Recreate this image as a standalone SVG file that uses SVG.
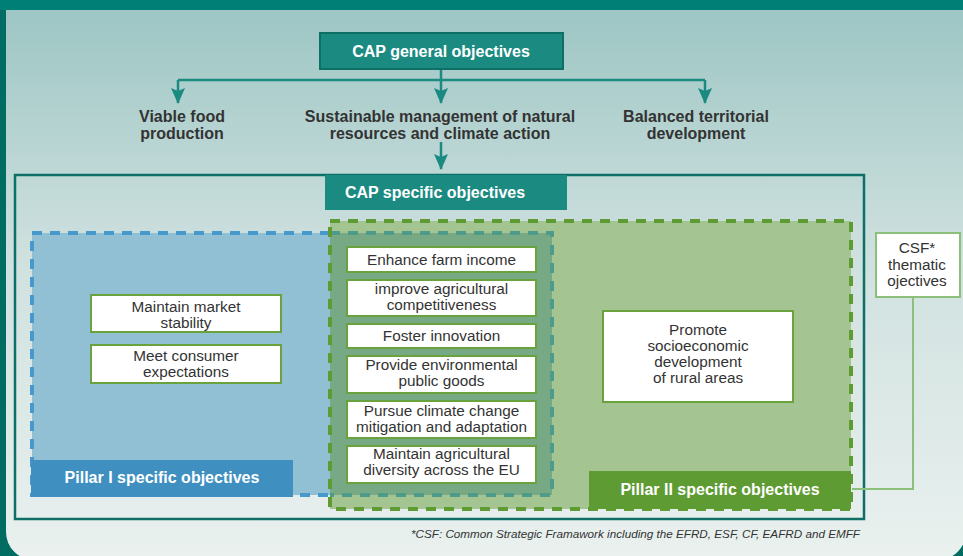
<svg xmlns="http://www.w3.org/2000/svg" width="963" height="556" viewBox="0 0 963 556">
<defs>
<linearGradient id="bg" x1="0" y1="0" x2="0" y2="1">
<stop offset="0" stop-color="#9dc6c4"/>
<stop offset="0.45" stop-color="#cfe1df"/>
<stop offset="1" stop-color="#eaf1ef"/>
</linearGradient>
<marker id="arr" markerUnits="userSpaceOnUse" markerWidth="16" markerHeight="16" refX="15" refY="7" orient="auto" viewBox="0 0 16 14">
<path d="M0,0 L16,7 L0,14 L3,7 Z" fill="#1b8a81"/>
</marker>
<style>
.hdr{fill:#1b8a81;stroke:#0e6f67;stroke-width:2}
.hdrt{font-family:"Liberation Sans",Arial,sans-serif;font-weight:bold;font-size:16px;fill:#ffffff;text-anchor:middle}
.lbl{font-family:"Liberation Sans",Arial,sans-serif;font-weight:bold;font-size:16px;fill:#333333;text-anchor:middle}
.box{fill:#ffffff;stroke:#6aa33d;stroke-width:2}
.bt{font-family:"Liberation Sans",Arial,sans-serif;font-size:15.3px;fill:#333333;text-anchor:middle}
.conn{fill:none;stroke:#1b8a81;stroke-width:2.5}
.pillt{font-family:"Liberation Sans",Arial,sans-serif;font-weight:bold;font-size:16px;fill:#ffffff;text-anchor:middle}
</style>
</defs>
<!-- frame -->
<rect x="0" y="0" width="963" height="556" fill="#006c62"/>
<rect x="0" y="0" width="963" height="10" fill="#007f77"/>
<path d="M6,10 H966 V532 A28,28 0 0 1 938,560 H34 A28,28 0 0 1 6,532 Z" fill="url(#bg)"/>

<!-- CAP specific objectives outer box -->
<g id="cap-specific">
<rect x="15" y="175" width="849" height="344" fill="none" stroke="#0e6f67" stroke-width="2.5"/>
<rect x="325" y="175" width="242" height="35" fill="#1b8a81"/>
<text class="hdrt" x="435" y="198" font-size="16.5">CAP specific objectives</text>
</g>

<!-- Pillar regions -->
<g id="pillar-regions">
<rect x="330" y="221" width="521" height="288" fill="#a4c592"/>
<rect x="32" y="233" width="298" height="262" fill="#91c0d5"/>
<rect x="330" y="233" width="222" height="262" fill="#77a985"/>
<path d="M330,233 H32 V495 H330" fill="none" stroke="#4699ca" stroke-width="4" stroke-dasharray="10 8"/>
<path d="M330,233 H552 V495 H330" fill="none" stroke="#4f9b8a" stroke-width="4" stroke-dasharray="10 8"/>
<rect x="330" y="221" width="521" height="288" fill="none" stroke="#5e9b33" stroke-width="4" stroke-dasharray="10 8"/>
</g>

<!-- connectors -->
<g id="connectors">
<path class="conn" d="M441,69 V80"/>
<path class="conn" d="M178,80 H705"/>
<path class="conn" d="M178,80 V103" marker-end="url(#arr)"/>
<path class="conn" d="M441,80 V103" marker-end="url(#arr)"/>
<path class="conn" d="M705,80 V103" marker-end="url(#arr)"/>
<path class="conn" d="M441,142 V169" marker-end="url(#arr)"/>
<path d="M852,489 H913 V297" fill="none" stroke="#8cc07a" stroke-width="2"/>
</g>

<g id="cap-general">
<rect class="hdr" x="320" y="33" width="243" height="36"/>
<text class="hdrt" x="441" y="57">CAP general objectives</text>
</g>

<g id="viable-food">
<text class="lbl" x="182" y="122">Viable food</text>
<text class="lbl" x="182" y="139">production</text>
</g>
<g id="sustainable-management">
<text class="lbl" x="440" y="122">Sustainable management of natural</text>
<text class="lbl" x="440" y="139">resources and climate action</text>
</g>
<g id="balanced-territorial">
<text class="lbl" x="696" y="122">Balanced territorial</text>
<text class="lbl" x="696" y="139">development</text>
</g>

<g id="maintain-market">
<rect class="box" x="91" y="295" width="190" height="37"/>
<text class="bt" x="186" y="312">Maintain market</text>
<text class="bt" x="186" y="328">stability</text>
</g>
<g id="meet-consumer">
<rect class="box" x="91" y="345" width="190" height="38"/>
<text class="bt" x="186" y="361">Meet consumer</text>
<text class="bt" x="186" y="377">expectations</text>
</g>

<g id="enhance-farm-income">
<rect class="box" x="347" y="247" width="189" height="25"/>
<text class="bt" x="441.5" y="265">Enhance farm income</text>
</g>
<g id="improve-competitiveness">
<rect class="box" x="347" y="280" width="189" height="36"/>
<text class="bt" x="441.5" y="294">improve agricultural</text>
<text class="bt" x="441.5" y="310">competitiveness</text>
</g>
<g id="foster-innovation">
<rect class="box" x="347" y="324" width="189" height="24"/>
<text class="bt" x="441.5" y="341">Foster innovation</text>
</g>
<g id="environmental-goods">
<rect class="box" x="347" y="356" width="189" height="37"/>
<text class="bt" x="441.5" y="370">Provide environmental</text>
<text class="bt" x="441.5" y="386">public goods</text>
</g>
<g id="climate-change">
<rect class="box" x="347" y="401" width="189" height="37"/>
<text class="bt" x="441.5" y="416">Pursue climate change</text>
<text class="bt" x="441.5" y="432">mitigation and adaptation</text>
</g>
<g id="agricultural-diversity">
<rect class="box" x="347" y="446" width="189" height="37"/>
<text class="bt" x="441.5" y="459">Maintain agricultural</text>
<text class="bt" x="441.5" y="475">diversity across the EU</text>
</g>

<g id="promote-rural">
<rect class="box" x="603" y="311" width="190" height="91"/>
<text class="bt" x="698" y="335">Promote</text>
<text class="bt" x="698" y="351">socioeconomic</text>
<text class="bt" x="698" y="367">development</text>
<text class="bt" x="698" y="383">of rural areas</text>
</g>

<g id="pillar-1">
<rect x="31" y="460" width="262" height="37" fill="#3f90c0"/>
<text class="pillt" x="162" y="483">Pillar I specific objectives</text>
</g>
<g id="pillar-2">
<rect x="589" y="471" width="262" height="38" fill="#5e9b33"/>
<text class="pillt" x="720" y="495">Pillar II specific objectives</text>
</g>

<g id="csf">
<rect x="876" y="233" width="84" height="64" fill="#ffffff" stroke="#8cc07a" stroke-width="2"/>
<text class="bt" x="917" y="253">CSF*</text>
<text class="bt" x="917" y="270">thematic</text>
<text class="bt" x="917" y="286">ojectives</text>
</g>

<text x="860" y="538" font-family="'Liberation Sans',Arial,sans-serif" font-style="italic" font-size="11.7" fill="#333333" text-anchor="end">*CSF: Common Strategic Framawork including the EFRD, ESF, CF, EAFRD and EMFF</text>
</svg>
